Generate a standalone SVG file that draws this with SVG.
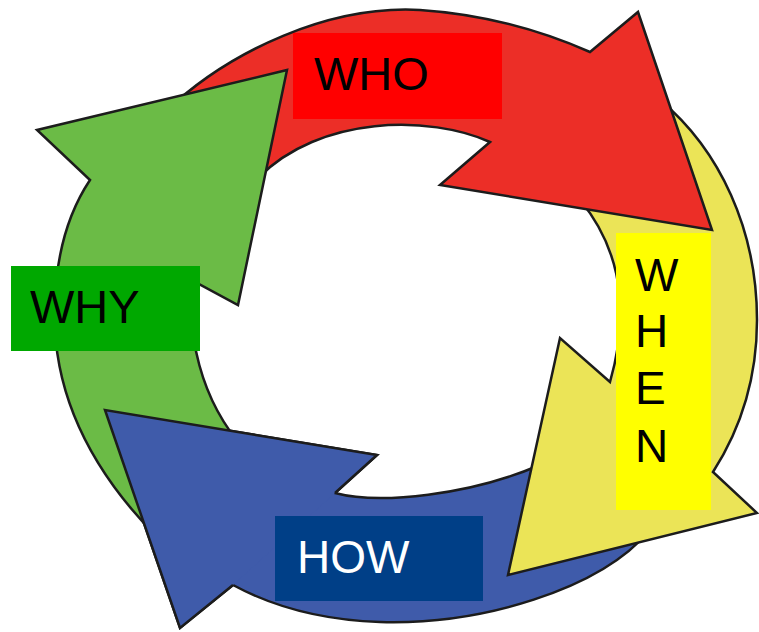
<svg xmlns="http://www.w3.org/2000/svg" width="759" height="632" viewBox="0 0 759 632">
<style>
.arrow{stroke:#1c1c1c;stroke-width:2.5;stroke-linejoin:miter}
.red{fill:#EC2E27}
.yellow{fill:#EBE457}
.blue{fill:#3F5BAA}
.green{fill:#6BBB46}
.lbl{font-family:"Liberation Sans",Arial,sans-serif;font-size:46px}
</style>
<rect width="759" height="632" fill="#ffffff"/>
<g id="arrows">
  <g id="arrow-how">
    <path class="arrow blue" d="M650,530 C600,590 480,625 380,622 C320,620 270,605 233,585 L180,628 L105,410 L377,455 L335,493 C380,505 470,495 540,465 Z"/>
  </g>
  <g id="arrow-when">
    <path class="arrow yellow" d="M660,100 C720,150 757,230 757,320 C757,380 740,430 713,472 L757,513 L508,575 L560,338 L610,382 C625,330 630,260 580,200 Z"/>
  </g>
  <g id="arrow-who">
    <path class="arrow red" d="M165,112 C230,50 330,5 420,10 C480,14 540,30 590,52 L638,12 L712,230 L440,185 L490,142 C430,115 320,115 258,178 Z"/>
  </g>
  <g id="arrow-why">
    <path class="arrow green" d="M160,540 C90,470 50,390 55,300 C57,250 70,210 90,180 L37,130 L287,70 L238,305 L195,282 C185,330 200,400 245,450 Z"/>
  </g>
  <g id="arrow-how-head">
    <polygon class="blue" points="233,585 180,628 105,410 377,455 335,493"/>
    <polyline class="arrow" fill="none" points="233,585 180,628 105,410 377,455 335,493"/>
  </g>
</g>
<g id="who">
  <rect x="293" y="33" width="209" height="86" fill="#FF0000"/>
  <text class="lbl" x="314" y="90" style="font-size:47px" fill="#000000">WHO</text>
</g>
<g id="why">
  <rect x="11" y="266" width="189" height="85" fill="#00A800"/>
  <text class="lbl" x="30" y="323" style="font-size:47px" fill="#000000">WHY</text>
</g>
<g id="how">
  <rect x="275" y="516" width="208" height="85" fill="#003F87"/>
  <text class="lbl" x="297" y="573" fill="#FFFFFF">HOW</text>
</g>
<g id="when">
  <rect x="616" y="233" width="95" height="277" fill="#FFFF00"/>
  <text class="lbl" fill="#000000">
    <tspan x="635" y="291">W</tspan>
    <tspan x="635" y="347">H</tspan>
    <tspan x="635" y="404">E</tspan>
    <tspan x="635" y="462">N</tspan>
  </text>
</g>
</svg>
